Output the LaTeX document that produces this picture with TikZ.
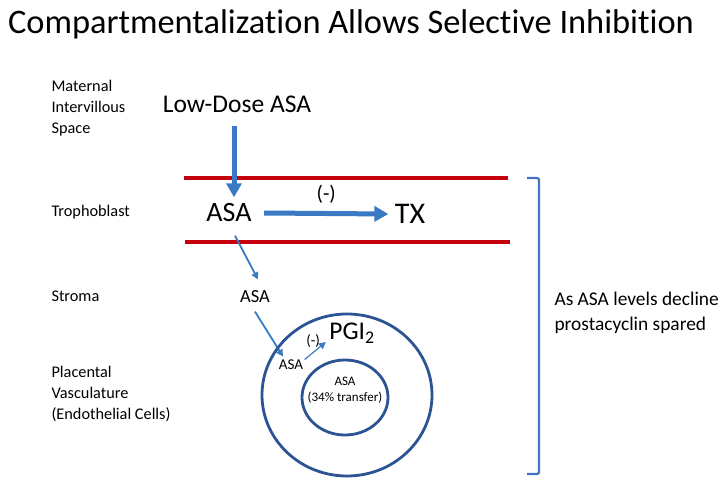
\documentclass[tikz,border=0pt]{standalone}
\usepackage{fontspec}
\setmainfont{Carlito}[Ligatures=NoCommon]
\usetikzlibrary{arrows.meta}
\definecolor{arrowblue}{RGB}{58,122,196}
\definecolor{membred}{RGB}{196,0,12}
\definecolor{cellblue}{RGB}{44,84,148}
\definecolor{brackblue}{RGB}{68,114,196}
\newcommand{\fsz}[2]{\fontsize{#1pt}{#2pt}\selectfont}
\begin{document}
\begin{tikzpicture}[x=1pt, y=-1pt, line join=round,
  layer/.style={anchor=west, align=left, font=\fsz{16.3}{20.8}},
  membrane/.style={draw=membred, line width=4.8pt},
  bigarrow/.style={-{Triangle[length=14pt,width=15pt]}, draw=arrowblue, line width=5pt},
  thinarrow/.style={-{Triangle[length=7pt,width=7pt]}, draw=arrowblue, line width=1.8pt},
  cell/.style={draw=cellblue, line width=2.8pt}]
\useasboundingbox (0,0) rectangle (721,487);
        \def\ya{178} \def\yb{242}
% title
\node (title) at (351,24) {\fsz{34.4}{34.4}Compartmentalization Allows Selective Inhibition};
% layers
\node[layer] (space) at (48,108) {Maternal\\Intervillous\\Space};
\node[layer] (troph) at (48,212) {Trophoblast};
\node[layer] (stroma) at (48,296) {Stroma};
\node[layer] (vasc) at (48,394) {Placental\\Vasculature\\(Endothelial Cells)};
% trophoblast membranes
\coordinate (M1) at (184,\ya);
\coordinate (M2) at (508,\ya);
\coordinate (M3) at (185,\yb);
\coordinate (M4) at (510,\yb);
        \draw[membrane] (M1) -- (M2);
        \draw[membrane] (M3) -- (M4);
% drug path
\node (dose) at (237,104) {\fsz{25.5}{25.5}Low-Dose ASA};
\node (asa) at (229,213) {\fsz{28}{28}ASA};
\node (tx) at (410,214) {\fsz{30}{30}TX};
\node (sasa) at (255,297) {\fsz{18.5}{18.5}ASA};
\node (casa) at (291,365) {\fsz{15}{15}ASA};
\node (pgi) at (352,333) {\fsz{25.5}{25.5}PGI\textsubscript{2}};
\node (inner) at (345,390) {\fsz{13}{16.5}\begin{tabular}{@{}c@{}}ASA\\(34\% transfer)\end{tabular}};
        \draw[bigarrow] ([xshift=-3pt,yshift=-10pt]dose.south) -- ([xshift=5pt,yshift=3pt]asa.north);
        \draw[bigarrow] ([xshift=9pt]asa.east) -- ([xshift=-3pt]tx.west)
            node[midway, above=4pt] (inh) {\fsz{21}{21}(-)};
        \draw[thinarrow] ([xshift=6pt,yshift=-10pt]asa.south) -- ([xshift=3pt,yshift=8pt]sasa.north);
        \draw[thinarrow] ([yshift=-5pt]sasa.south) -- ([xshift=-8pt]casa.north);
        \draw[thinarrow, line width=1.2pt] ([shift={(-2pt,-3pt)}]casa.north east) -- ([yshift=-9pt]pgi.west)
            node[pos=0.4, above=1pt] (sinh) {\fsz{15}{15}(-)};
% endothelium
        \draw[cell] (347,395) ellipse [x radius=85, y radius=81];
        \draw[cell] (345,397.5) ellipse [x radius=43, y radius=37.5];
% bracket
\coordinate (B1) at (527,\ya);
\coordinate (B2) at (539,\ya);
\coordinate (B3) at (539,474);
\coordinate (B4) at (527,474);
        \draw[brackblue, line width=2.2pt, rounded corners=2pt] (B1) -- (B2) -- (B3) -- (B4);
\node[anchor=west, align=left, font=\fsz{19.4}{25}] (note) at (551,313) {As ASA levels decline\\prostacyclin spared};
    \end{tikzpicture}
\end{document}
